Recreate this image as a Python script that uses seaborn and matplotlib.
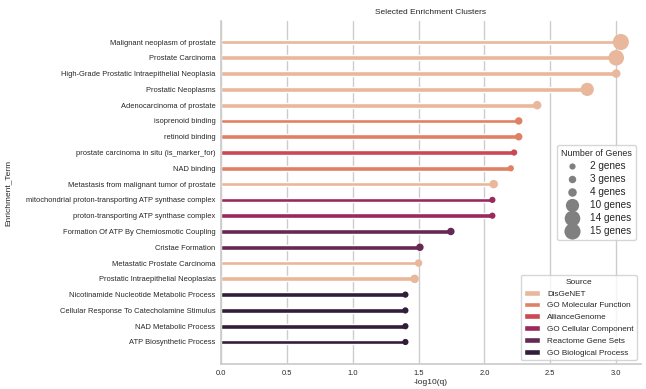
import numpy as np
import pandas as pd
import seaborn as sns
import matplotlib.pyplot as plt
from matplotlib.lines import Line2D

# values (top to bottom)
terms = [
    "Malignant neoplasm of prostate",
    "Prostate Carcinoma",
    "High-Grade Prostatic Intraepithelial Neoplasia",
    "Prostatic Neoplasms",
    "Adenocarcinoma of prostate",
    "isoprenoid binding",
    "retinoid binding",
    "prostate carcinoma in situ (is_marker_for)",
    "NAD binding",
    "Metastasis from malignant tumor of prostate",
    "mitochondrial proton-transporting ATP synthase complex",
    "proton-transporting ATP synthase complex",
    "Formation Of ATP By Chemiosmotic Coupling",
    "Cristae Formation",
    "Metastatic Prostate Carcinoma",
    "Prostatic Intraepithelial Neoplasias",
    "Nicotinamide Nucleotide Metabolic Process",
    "Cellular Response To Catecholamine Stimulus",
    "NAD Metabolic Process",
    "ATP Biosynthetic Process",
]
neg_log_q = [3.035, 3.00, 3.00, 2.78, 2.40, 2.26, 2.26, 2.225, 2.20, 2.07,
             2.06, 2.06, 1.745, 1.51, 1.50, 1.47, 1.40, 1.40, 1.40, 1.40]
n_genes = [15, 14, 4, 10, 4, 3, 3, 2, 2, 4, 2, 2, 3, 3, 3, 4, 2, 2, 2, 2]
sources = ["DisGeNET", "DisGeNET", "DisGeNET", "DisGeNET", "DisGeNET",
           "GO Molecular Function", "GO Molecular Function", "AllianceGenome",
           "GO Molecular Function", "DisGeNET", "GO Cellular Component",
           "GO Cellular Component", "Reactome Gene Sets", "Reactome Gene Sets",
           "DisGeNET", "DisGeNET", "GO Biological Process", "GO Biological Process",
           "GO Biological Process", "GO Biological Process"]
source_order = ["DisGeNET", "GO Molecular Function", "AllianceGenome",
                "GO Cellular Component", "Reactome Gene Sets", "GO Biological Process"]
size_levels = [2, 3, 4, 10, 14, 15]

df = pd.DataFrame({"Enrichment_Term": terms, "-log10(q)": neg_log_q,
                   "genes": n_genes, "Source": sources})

sns.set_theme(style="whitegrid")
plt.rcParams['font.family'] = ['Liberation Sans', 'DejaVu Sans']

fig, ax = plt.subplots(figsize=(6.46, 3.89), dpi=100)
fig.subplots_adjust(left=0.342, right=0.992, top=0.946, bottom=0.064)

pal = sns.color_palette("rocket_r", len(source_order))
sns.barplot(data=df, x="-log10(q)", y="Enrichment_Term", hue="Source",
            hue_order=source_order, palette=pal, width=0.3, dodge=False, ax=ax)

# dots at the end of each stick, same (desaturated) colours as the bars
size_range = (20, 135)
pal_dots = [sns.desaturate(c, .75) for c in pal]
sns.scatterplot(data=df, x="-log10(q)", y="Enrichment_Term", hue="Source",
                hue_order=source_order, palette=pal_dots, size="genes",
                sizes=size_range, linewidth=0, legend=False, ax=ax, zorder=3)

ax.set_ylim(20.4, -1.33)
ax.set_title("Selected Enrichment Clusters", fontsize=6, pad=5)
ax.set_xlabel("-log10(q)", fontsize=6, labelpad=2)
ax.set_ylabel("Enrichment_Term", fontsize=6, labelpad=10)
ax.tick_params(axis='both', labelsize=5.4, length=0)
ax.tick_params(axis='x', pad=4)
ax.tick_params(axis='y', pad=4)
sns.despine(ax=ax)

# Source legend (bars)
old = ax.get_legend()
h = old.legend_handles
l = [t.get_text() for t in old.get_texts()]
leg_src = ax.legend(h, l, title="Source", loc="lower right", fontsize=5.9,
                    title_fontsize=6, labelspacing=0.5)
ax.add_artist(leg_src)

# Number of genes legend
lo, hi = min(n_genes), max(n_genes)
size_handles = []
for g in size_levels:
    area = size_range[0] + (g - lo) / (hi - lo) * (size_range[1] - size_range[0])
    size_handles.append(Line2D([], [], marker='o', linestyle='', color='grey',
                               markersize=np.sqrt(area), markeredgewidth=0))
ax.legend(size_handles, [f"{g} genes" for g in size_levels], title="Number of Genes",
          loc="center right", fontsize=7.2, title_fontsize=6.4, labelspacing=0.3)

plt.savefig("out.png", dpi=100)
